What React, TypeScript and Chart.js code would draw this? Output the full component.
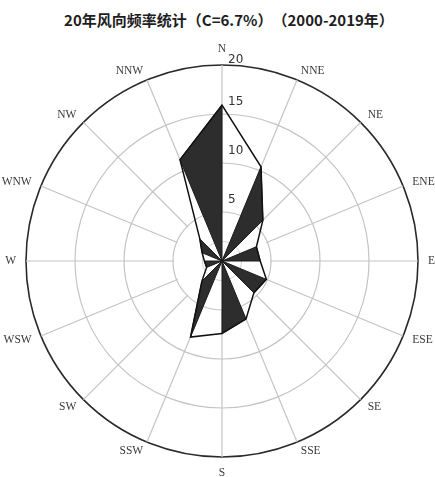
import React, { useEffect, useRef } from "react";
import { Chart, registerables } from "chart.js";

Chart.register(...registerables);

const titleText = "20年风向频率统计（C=6.7%）（2000-2019年）";
const directions = ["N", "NNE", "NE", "ENE", "E", "ESE", "SE", "SSE", "S", "SSW", "SW", "WSW", "W", "WNW", "NW", "NNW"];
const frequencies = [15.9, 10.4, 5.9, 3.8, 3.9, 4.9, 4.6, 6.4, 7.4, 8.4, 2.9, 1.7, 1.8, 2.2, 3.2, 11.2];
const tickValues = [0, 5, 10, 15, 20];
const calmRingValue = 2;

const roseDecor = {
  id: "roseDecor",
  beforeDatasetsDraw(chart: any) {
    const s = chart.scales.r;
    const ctx = chart.ctx;
    const cx = s.xCenter;
    const cy = s.yCenter;
    ctx.save();
    // clear the angle lines inside the first ring
    ctx.beginPath();
    ctx.arc(cx, cy, s.getDistanceFromCenterForValue(tickValues[1]) - 1, 0, Math.PI * 2);
    ctx.fillStyle = "#ffffff";
    ctx.fill();
    // faint inner ring
    ctx.beginPath();
    ctx.arc(cx, cy, s.getDistanceFromCenterForValue(calmRingValue), 0, Math.PI * 2);
    ctx.strokeStyle = "#d4d4d4";
    ctx.lineWidth = 1;
    ctx.stroke();
    // alternating black wedges
    const pts = chart.getDatasetMeta(0).data;
    ctx.fillStyle = "#2d2d2d";
    ctx.strokeStyle = "#1a1a1a";
    ctx.lineWidth = 1;
    ctx.lineJoin = "miter";
    for (let k = 1; k < pts.length; k += 2) {
      const a = pts[k];
      const b = pts[(k + 1) % pts.length];
      ctx.beginPath();
      ctx.moveTo(cx, cy);
      ctx.lineTo(a.x, a.y);
      ctx.lineTo(b.x, b.y);
      ctx.closePath();
      ctx.fill();
      ctx.stroke();
    }
    ctx.restore();
  },
  afterDraw(chart: any) {
    const s = chart.scales.r;
    const ctx = chart.ctx;
    const cx = s.xCenter;
    const cy = s.yCenter;
    const R = s.drawingArea;
    ctx.save();
    // radial tick labels, right of the N axis
    ctx.font = "12px 'DejaVu Sans'";
    ctx.fillStyle = "#333333";
    ctx.textAlign = "left";
    ctx.textBaseline = "bottom";
    s.ticks.forEach((t: any) => {
      if (t.value <= 0) return;
      const y = cy - s.getDistanceFromCenterForValue(t.value);
      const off = t.value === s.max ? 1 : -6;
      ctx.fillText(String(t.value), cx + 6, y + off);
    });
    // direction labels
    ctx.font = "11.5px 'Liberation Serif'";
    ctx.fillStyle = "#3a3a3a";
    const n = directions.length;
    directions.forEach((lab, i) => {
      const deg = (i * 360) / n;
      const p = s.getPointPosition(i, R + 10);
      if (deg === 0 || deg === 180) ctx.textAlign = "center";
      else if (deg < 180) ctx.textAlign = "left";
      else ctx.textAlign = "right";
      if (deg === 0) ctx.textBaseline = "bottom";
      else if (deg === 180) ctx.textBaseline = "top";
      else ctx.textBaseline = "middle";
      ctx.fillText(lab, p.x, p.y);
    });
    ctx.restore();
  },
};

export default function App() {
  const ref = useRef<HTMLCanvasElement | null>(null);

  useEffect(() => {
    if (!ref.current) return;
    const chart = new Chart(ref.current, {
      type: "radar",
      data: {
        labels: directions,
        datasets: [
          {
            data: frequencies,
            borderColor: "#111111",
            borderWidth: 1.5,
            backgroundColor: "rgba(0,0,0,0)",
            fill: false,
            pointRadius: 0,
            pointHoverRadius: 0,
            tension: 0,
          },
        ],
      },
      options: {
        animation: false,
        responsive: true,
        maintainAspectRatio: false,
        layout: { padding: { left: 26, right: 17, top: 65, bottom: 20 } },
        plugins: {
          legend: { display: false },
          tooltip: { enabled: false },
          title: { display: false },
        },
        scales: {
          r: {
            min: 0,
            max: 20,
            startAngle: 0,
            afterBuildTicks: (scale: any) => {
              scale.ticks = tickValues.map((v) => ({ value: v }));
            },
            ticks: { display: false, stepSize: 5 },
            pointLabels: { display: false },
            grid: {
              circular: true,
              color: (c: any) => (c.tick && c.tick.value === 20 ? "#2a2a2a" : "#c4c4c4"),
              lineWidth: (c: any) => (c.tick && c.tick.value === 20 ? 1.6 : 1.2),
            },
            angleLines: { display: true, color: "#c4c4c4", lineWidth: 1.2 },
          },
        },
      },
      plugins: [roseDecor],
    } as any);
    return () => chart.destroy();
  }, []);

  const titleStyle: any = {
    position: "absolute",
    left: 0,
    top: 11,
    width: 458,
    textAlign: "center",
    fontFamily: "'Noto Sans CJK SC', sans-serif",
    fontWeight: "bold",
    fontSize: 15,
    lineHeight: "18px",
    color: "#1e1e1e",
    whiteSpace: "nowrap",
    textSpacingTrim: "space-all",
    fontFeatureSettings: "'halt' 0, 'chws' 0",
  };

  return (
    <div style={{ position: "absolute", left: 0, top: 0, width: 435, height: 477, background: "#fff" }}>
      <div style={titleStyle}>{titleText}</div>
      <div style={{ position: "absolute", left: 0, top: 0, width: 435, height: 477 }}>
        <canvas ref={ref} />
      </div>
    </div>
  );
}
